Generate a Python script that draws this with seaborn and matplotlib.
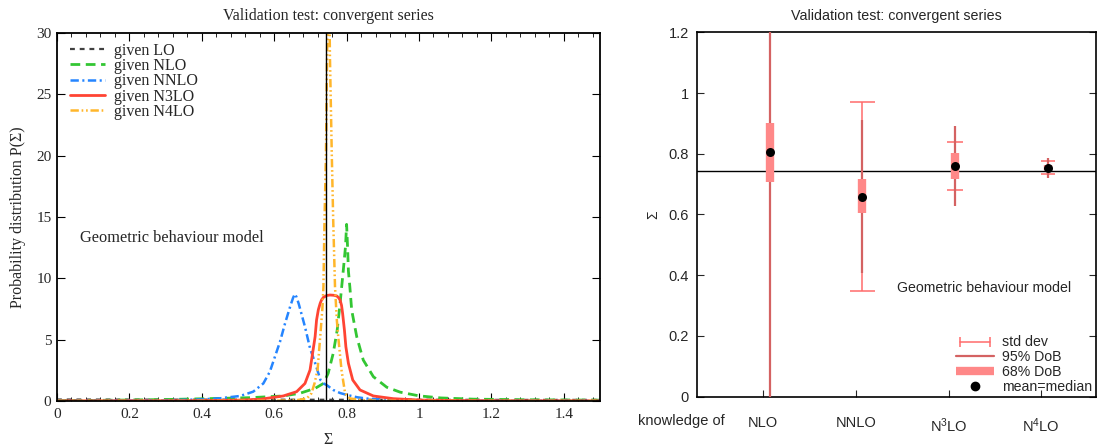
import numpy as np
import pandas as pd
import matplotlib
matplotlib.use("Agg")
import matplotlib.pyplot as plt
from matplotlib.lines import Line2D
from matplotlib.legend_handler import HandlerLine2D
import seaborn as sns

# ---------------- left panel: posterior distributions P(Sigma) ----------------
sigma_true = 0.742

lo_x = [0.00, 0.25, 0.50, 0.75, 1.00, 1.25, 1.50]
lo_y = [0.12, 0.11, 0.11, 0.10, 0.10, 0.09, 0.09]

nlo_x = [0.00, 0.10, 0.20, 0.30, 0.40, 0.533, 0.625, 0.671, 0.713, 0.736, 0.749,
         0.763, 0.774, 0.782, 0.791, 0.797, 0.800, 0.803, 0.805, 0.809, 0.814,
         0.828, 0.846, 0.874, 0.911, 0.948, 1.000, 1.060, 1.150, 1.300, 1.500]
nlo_y = [0.04, 0.05, 0.08, 0.12, 0.18, 0.27, 0.41, 0.63, 1.03, 1.43, 2.25,
         3.88, 5.78, 7.96, 10.7, 12.6, 14.4, 12.3, 10.6, 9.3, 7.42,
         5.24, 3.34, 1.98, 1.12, 0.72, 0.42, 0.25, 0.15, 0.10, 0.07]

nnlo_x = [0.00, 0.10, 0.20, 0.30, 0.40, 0.450, 0.506, 0.542, 0.570, 0.588, 0.602,
          0.616, 0.630, 0.644, 0.652, 0.657, 0.662, 0.668, 0.685, 0.699, 0.713,
          0.728, 0.738, 0.745, 0.763, 0.782, 0.800, 0.830, 0.855, 0.900, 1.000,
          1.100, 1.200, 1.500]
nnlo_y = [0.01, 0.02, 0.03, 0.06, 0.13, 0.22, 0.41, 0.76, 1.43, 2.39, 3.61,
          4.83, 6.33, 7.69, 8.40, 8.72, 8.45, 7.90, 6.05, 4.30, 3.10,
          1.70, 1.40, 1.30, 0.90, 0.65, 0.50, 0.30, 0.20, 0.12, 0.06,
          0.03, 0.02, 0.01]

n3lo_x = [0.00, 0.30, 0.40, 0.50, 0.561, 0.625, 0.662, 0.685, 0.699, 0.706, 0.713,
          0.717, 0.722, 0.727, 0.731, 0.736, 0.745, 0.754, 0.764, 0.773, 0.778,
          0.782, 0.786, 0.789, 0.794, 0.798, 0.805, 0.817, 0.837, 0.874, 0.929,
          1.000, 1.100, 1.200, 1.500]
n3lo_y = [0.01, 0.02, 0.03, 0.07, 0.14, 0.41, 0.76, 1.43, 2.53, 3.88, 5.24,
          6.60, 7.45, 7.96, 8.25, 8.45, 8.60, 8.64, 8.62, 8.56, 8.42,
          8.23, 7.80, 7.14, 5.78, 4.42, 3.07, 1.71, 0.90, 0.41, 0.19,
          0.08, 0.04, 0.02, 0.01]

n4lo_x = [0.00, 0.30, 0.60, 0.660, 0.690, 0.703, 0.712, 0.720, 0.727, 0.733, 0.736,
          0.739, 0.743, 0.746, 0.750, 0.754, 0.759, 0.763, 0.768, 0.773, 0.777,
          0.786, 0.796, 0.810, 0.850, 0.900, 1.200, 1.500]
n4lo_y = [0.00, 0.00, 0.02, 0.06, 0.20, 0.63, 1.50, 2.60, 5.20, 7.50, 9.30,
          14.75, 20.2, 28.0, 38.0, 28.0, 20.2, 14.75, 9.30, 6.60, 5.20,
          2.50, 0.60, 0.20, 0.05, 0.02, 0.00, 0.00]

curves = [
    ("given LO",   lo_x,   lo_y,   "#404040", 1.6, (3.5, 3.5)),
    ("given NLO",  nlo_x,  nlo_y,  "#33c633", 2.0, (7, 4)),
    ("given NNLO", nnlo_x, nnlo_y, "#2585ff", 1.8, (6, 2.5, 1.5, 2.5)),
    ("given N3LO", n3lo_x, n3lo_y, "#ff4433", 2.0, None),
    ("given N4LO", n4lo_x, n4lo_y, "#ffb62b", 1.8, (6, 2, 1.2, 2, 1.2, 2)),
]

# ---------------- right panel: credibility intervals ----------------
orders = ["NLO", "NNLO", r"N$\mathregular{^3}$LO", r"N$\mathregular{^4}$LO"]
means = [0.805, 0.659, 0.761, 0.754]
dob68_lo = [0.708, 0.604, 0.717, 0.745]
dob68_hi = [0.900, 0.716, 0.801, 0.763]
dob95_lo = [-0.30, 0.406, 0.629, 0.719]
dob95_hi = [1.90, 0.911, 0.891, 0.787]
std_lo = [-0.50, 0.349, 0.681, 0.732]
std_hi = [2.10, 0.969, 0.840, 0.775]

sns.set_style("ticks", {"xtick.direction": "in", "ytick.direction": "in"})
plt.rcParams["lines.scale_dashes"] = False
serif = ["Liberation Serif", "DejaVu Serif"]
sans = ["Liberation Sans", "DejaVu Sans"]
plt.rcParams["font.family"] = sans

fig = plt.figure(figsize=(10.97, 4.48), dpi=100)

# ---- left axes
axL = fig.add_axes([57 / 1097, 1 - 401 / 448, 543 / 1097, 368 / 448])
for name, xs, ys, col, lw, dash in curves:
    df = pd.DataFrame({"Sigma": xs, "P": ys})
    sns.lineplot(data=df, x="Sigma", y="P", ax=axL, color=col, lw=lw,
                 label=name, estimator=None, sort=True)
    if dash is not None:
        axL.lines[-1].set_dashes(dash)
axL.axvline(sigma_true, color="black", lw=1.0, zorder=5)
axL.set_xlim(0, 1.5)
axL.set_ylim(0, 30)
axL.set_xticks(np.arange(0, 1.41, 0.2))
axL.set_xticklabels(["0", "0.2", "0.4", "0.6", "0.8", "1", "1.2", "1.4"])
axL.set_xticks(np.arange(0, 1.5001, 0.04), minor=True)
axL.set_yticks([0, 5, 10, 15, 20, 25, 30])
axL.tick_params(axis="both", which="both", direction="in", top=True, right=True,
                labelsize=11, color="black")
axL.tick_params(axis="x", which="major", length=6, pad=5)
axL.tick_params(axis="x", which="minor", length=3)
axL.tick_params(axis="y", which="major", length=6, pad=4)
for lab in axL.get_xticklabels() + axL.get_yticklabels():
    lab.set_family(serif)
for s in axL.spines.values():
    s.set_linewidth(1.3)
    s.set_color("black")
axL.set_xlabel("Σ", family=serif, fontsize=11.5, labelpad=8)
axL.set_ylabel("Probability distribution P(Σ)", family=serif, fontsize=11.5,
               labelpad=7)
axL.set_title("Validation test: convergent series", family=serif, fontsize=11.5,
              pad=9)
axL.text(0.064, 13.3, "Geometric behaviour model", family=serif, fontsize=11.8,
         va="center", ha="left")
legL = axL.legend(loc="upper left", bbox_to_anchor=(0.024, 0.974), frameon=False,
                  prop={"family": serif, "size": 11.5}, handlelength=2.2,
                  handletextpad=0.55, labelspacing=-0.04, borderpad=0,
                  borderaxespad=0)

# ---- right axes
axR = fig.add_axes([697 / 1097, 1 - 396.7 / 448, 399 / 1097, 364.4 / 448])
xpos = np.arange(1, 5)
xbar = xpos + 0.07
capw = [7, 9, 5.5, 5]
for i in range(4):
    axR.errorbar([xbar[i]], [means[i]],
                 yerr=[[means[i] - std_lo[i]], [std_hi[i] - means[i]]],
                 fmt="none", ecolor="#ff6b6b", elinewidth=1.1, capsize=capw[i],
                 capthick=1.1, zorder=2)
axR.vlines(xbar, dob95_lo, dob95_hi, color="#d46262", lw=1.6, zorder=3)
axR.vlines(xbar, dob68_lo, dob68_hi, color="#ff8888", lw=6, zorder=4,
           capstyle="butt")
sns.scatterplot(x=xbar, y=means, ax=axR, color="black", s=42, zorder=6,
                edgecolor="black", linewidth=0, legend=False)
axR.axhline(sigma_true, color="black", lw=1.0, zorder=1)
axR.set_xlim(0.287, 4.59)
axR.set_ylim(0, 1.2)
axR.set_xticks(xpos)
axR.set_xticklabels(orders)
axR.set_yticks([0, 0.2, 0.4, 0.6, 0.8, 1.0, 1.2])
axR.set_yticklabels(["0", "0.2", "0.4", "0.6", "0.8", "1", "1.2"])
axR.tick_params(axis="y", which="major", direction="in", right=True, length=5,
                labelsize=10.5, pad=6)
axR.tick_params(axis="x", which="major", direction="in", length=5,
                labelsize=10.5, pad=14)
for s in axR.spines.values():
    s.set_linewidth(1.2)
    s.set_color("black")
axR.set_ylabel("Σ", fontsize=10, labelpad=6)
axR.set_title("Validation test: convergent series", fontsize=10.3, pad=9)
axR.text(2.448, 0.359, "Geometric behaviour model", fontsize=10.2, va="center",
         ha="left")
fig.text(681.7 / 1097, 1 - 421 / 448, "knowledge of", fontsize=10.5, ha="center",
         va="center")

h_std = Line2D([0, 1], [0, 0], color="#ff6b6b", lw=1.1, marker="|",
               markersize=7, markeredgewidth=1.1)
h_95 = Line2D([], [], color="#d46262", lw=1.6)
h_68 = Line2D([], [], color="#ff8888", lw=6, solid_capstyle="butt")
h_mean = Line2D([], [], color="black", marker="o", lw=0, markersize=6)
legR = axR.legend([h_std, h_95, h_68, h_mean],
                  ["std dev", "95% DoB", "68% DoB", "mean=median"],
                  handler_map={h_std: HandlerLine2D(numpoints=2)},
                  loc="upper left", bbox_to_anchor=(0.649, 0.168),
                  frameon=False, fontsize=10.2, handlelength=2.7,
                  handletextpad=0.55, labelspacing=0.05, borderpad=0,
                  borderaxespad=0)

fig.savefig("out.png", dpi=100)
